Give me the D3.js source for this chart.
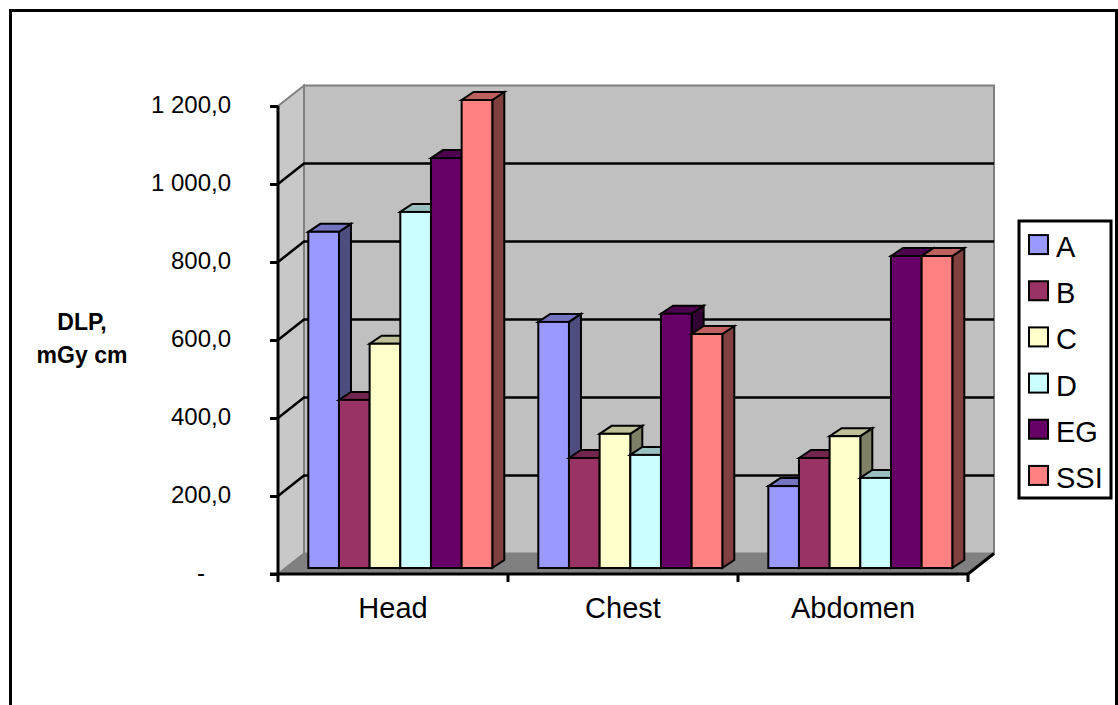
<!DOCTYPE html>
<html>
<head>
<meta charset="utf-8">
<style>
  html, body { margin: 0; padding: 0; background: #fff; overflow: hidden; }
  text { font-family: "Liberation Sans", Arial, sans-serif; fill: #000; }
</style>
<script src="https://cdn.jsdelivr.net/npm/d3@7/dist/d3.min.js"></script>
</head>
<body>
<svg id="chart" width="1118" height="705"></svg>
<script>
const categories = ["Head", "Chest", "Abdomen"];
const seriesNames = ["A", "B", "C", "D", "EG", "SSI"];
const seriesColors = ["#9999ff", "#993366", "#ffffcc", "#ccffff", "#660066", "#ff8080"];
const valuesA = [862, 631, 210];
const valuesB = [431, 282, 282];
const valuesC = [575, 344, 338];
const valuesD = [913, 290, 231];
const valuesEG = [1051, 652, 800];
const valuesSSI = [1200, 600, 800];
const allSeries = [valuesA, valuesB, valuesC, valuesD, valuesEG, valuesSSI];
const tickValues = [0, 200, 400, 600, 800, 1000, 1200];
const tickLabels = ["-", "200,0", "400,0", "600,0", "800,0", "1 000,0", "1 200,0"];

const svg = d3.select("#chart");

// Front plane of the 3D box and the offset to its back wall
const y = d3.scaleLinear().domain([0, 1200]).range([574, 106]);
const x = d3.scaleBand().domain(categories).range([278, 968]);
const wallDx = 26, wallDy = -20.5;
const barDepthDx = 12, barDepthDy = -8;
const barShiftX = 30.3, barShiftY = -6;
const groupWidth = 184;
const inner = d3.scaleBand().domain(seriesNames).range([0, groupWidth]);

const poly = pts => pts.map(p => p.join(",")).join(" ");
const x0 = x.range()[0], x1 = x.range()[1];

// Outer frame of the chart area, running past the bottom edge
svg.append("path")
  .attr("d", "M10.5,720V10.5H1116.5V720")
  .attr("fill", "none").attr("stroke", "#000").attr("stroke-width", 3);

// Back wall, side wall and floor
svg.append("polygon")
  .attr("points", poly([[x0 + wallDx, y(1200) + wallDy], [x1 + wallDx, y(1200) + wallDy], [x1 + wallDx, y(0) + wallDy], [x0 + wallDx, y(0) + wallDy]]))
  .attr("fill", "#c0c0c0").attr("stroke", "#808080").attr("stroke-width", 2);
svg.append("polygon")
  .attr("points", poly([[x0, y(1200)], [x0 + wallDx, y(1200) + wallDy], [x0 + wallDx, y(0) + wallDy], [x0, y(0)]]))
  .attr("fill", "#c8c8c8").attr("stroke", "#808080").attr("stroke-width", 2);
svg.append("polygon")
  .attr("points", poly([[x0, y(0)], [x0 + wallDx, y(0) + wallDy], [x1 + wallDx, y(0) + wallDy], [x1, y(0)]]))
  .attr("fill", "#808080");

// Gridlines wrap from the side wall onto the back wall
svg.append("g").selectAll("path")
  .data(tickValues.slice(1, -1))
  .join("path")
  .attr("d", v => `M${x0},${y(v)}L${x0 + wallDx},${y(v) + wallDy}H${x1 + wallDx}`)
  .attr("fill", "none").attr("stroke", "#000").attr("stroke-width", 2.5);

// Bars: drawn per category, side and top faces first in each bar
categories.forEach((cat, ci) => {
  const g = svg.append("g");
  seriesNames.forEach((name, si) => {
    const v = allSeries[si][ci];
    const left = x(cat) + barShiftX + inner(name);
    const right = left + inner.bandwidth();
    const top = y(v) + barShiftY;
    const base = y(0) + barShiftY;
    const col = d3.color(seriesColors[si]);
    const bar = g.append("g")
      .attr("stroke", "#000").attr("stroke-width", 2).attr("stroke-linejoin", "miter");
    bar.append("polygon")
      .attr("points", poly([[right, top], [right + barDepthDx, top + barDepthDy], [right + barDepthDx, base + barDepthDy], [right, base]]))
      .attr("fill", d3.rgb(col.r * 0.5, col.g * 0.5, col.b * 0.5).formatHex());
    bar.append("polygon")
      .attr("points", poly([[left, top], [left + barDepthDx, top + barDepthDy], [right + barDepthDx, top + barDepthDy], [right, top]]))
      .attr("fill", d3.rgb(col.r * 0.75, col.g * 0.75, col.b * 0.75).formatHex());
    bar.append("rect")
      .attr("x", left).attr("y", top)
      .attr("width", inner.bandwidth()).attr("height", base - top)
      .attr("fill", seriesColors[si]);
  });
});

// Value axis on the front plane; the zero label sits further left, as in accounting formats
const yAxis = svg.append("g").attr("transform", `translate(${x0},0)`)
  .call(d3.axisLeft(y).tickValues(tickValues).tickSize(8)
    .tickFormat((d, i) => tickLabels[i]));
yAxis.selectAll(".domain, .tick line").attr("stroke", "#000").attr("stroke-width", 3);
yAxis.select(".domain").attr("d", `M0,${y(1200)}V${y(0)}`);
yAxis.selectAll("text")
  .attr("x", d => d === 0 ? -73 : -47).attr("y", -2.5).attr("dy", "0.36em").attr("font-size", 24)
  .style("font-family", '"Liberation Sans", Arial, sans-serif');

// Category axis with ticks between the groups
svg.append("path")
  .attr("d", `M${x0 - 8},${y(0)}H${x1}L${x1 + wallDx},${y(0) + wallDy}`)
  .attr("fill", "none").attr("stroke", "#000").attr("stroke-width", 3);
svg.append("g").selectAll("line")
  .data([...categories.map(c => x(c)), x1])
  .join("line")
  .attr("x1", d => d).attr("x2", d => d)
  .attr("y1", y(0)).attr("y2", y(0) + 8)
  .attr("stroke", "#000").attr("stroke-width", 3);
svg.append("g").selectAll("text")
  .data(categories)
  .join("text")
  .attr("x", c => x(c) + x.bandwidth() / 2)
  .attr("y", 618)
  .attr("text-anchor", "middle")
  .attr("font-size", 29)
  .text(c => c);

// Axis title
const title = svg.append("text").attr("text-anchor", "middle")
  .attr("font-size", 23).attr("font-weight", "bold");
title.append("tspan").attr("x", 82).attr("y", 330).text("DLP,");
title.append("tspan").attr("x", 82).attr("y", 363).text("mGy cm");

// Legend
const legend = svg.append("g");
legend.append("rect")
  .attr("x", 1019).attr("y", 221).attr("width", 92).attr("height", 277)
  .attr("fill", "#fff").attr("stroke", "#000").attr("stroke-width", 3);
const row = d3.scaleBand().domain(seriesNames).range([222, 499]);
const items = legend.selectAll("g").data(seriesNames).join("g")
  .attr("transform", d => `translate(0,${row(d) + row.bandwidth() / 2})`);
items.append("rect")
  .attr("x", 1029).attr("y", -10).attr("width", 19).attr("height", 19)
  .attr("fill", (d, i) => seriesColors[i])
  .attr("stroke", "#000").attr("stroke-width", 2);
items.append("text")
  .attr("x", 1056).attr("y", 12)
  .attr("font-size", 29)
  .text(d => d);
</script>
</body>
</html>
